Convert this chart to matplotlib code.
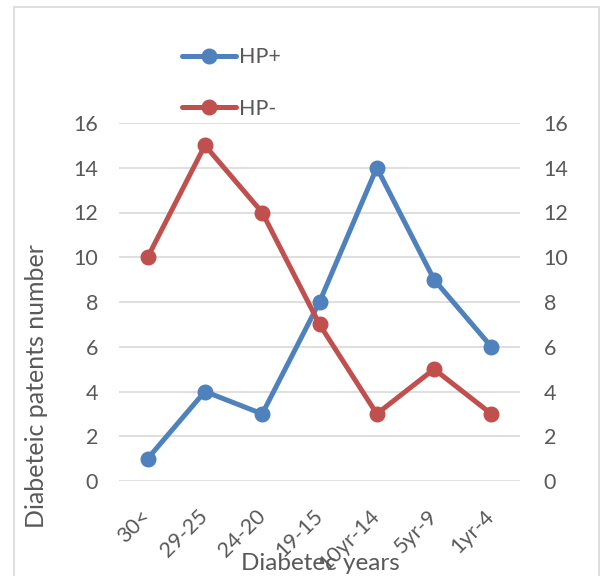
import matplotlib.pyplot as plt
from matplotlib.patches import Rectangle

categories = ['30<', '29-25', '24-20', '19-15', '10yr-14', '5yr-9', '1yr-4']
hp_pos = [1, 4, 3, 8, 14, 9, 6]
hp_neg = [10, 15, 12, 7, 3, 5, 3]
y_ticks = [0, 2, 4, 6, 8, 10, 12, 14, 16]

plt.rcParams['font.family'] = ['Lato', 'DejaVu Sans']
txt = '#595959'
blue = '#4F81BD'
red = '#C0504D'

fig = plt.figure(figsize=(6, 5.76), dpi=100)
# outer chart border, like the excel chart frame
fig.patches.append(Rectangle((14 / 600, -0.05), 585 / 600, 1.05 - 6.5 / 576,
                             transform=fig.transFigure, fill=False,
                             edgecolor='#D9D9D9', linewidth=1.2))

ax = fig.add_axes([119 / 600, 1 - 481 / 576, 401 / 600, 358 / 576])
x = range(len(categories))
ax.plot(x, hp_pos, color=blue, lw=3.6, marker='o', ms=10.5, label='HP+', solid_capstyle='round')
ax.plot(x, hp_neg, color=red, lw=3.6, marker='o', ms=10.5, label='HP-', solid_capstyle='round')

ax.set_xlim(-0.5, len(categories) - 0.5)
ax.set_ylim(0, 16)
ax.set_yticks(y_ticks)
ax.grid(axis='y', color='#D9D9D9', lw=1.2)
ax.set_axisbelow(True)
for s in ax.spines.values():
    s.set_visible(False)
ax.tick_params(length=0, colors=txt, labelsize=15.5)
ax.tick_params(axis='y', pad=15)
ax.set_xticks(list(x))
ax.set_xticklabels(categories, rotation=45, ha='right', va='center',
                   rotation_mode='anchor')
ax.tick_params(axis='x', pad=23)

ax2 = ax.twinx()
ax2.set_ylim(0, 16)
ax2.set_yticks(y_ticks)
for s in ax2.spines.values():
    s.set_visible(False)
ax2.tick_params(length=0, colors=txt, labelsize=15.5, pad=17)

fig.text(37 / 600, 1 - 386 / 576, 'Diabeteic patents number', rotation=90,
         ha='center', va='center', color=txt, fontsize=18)
fig.text(320 / 600, 1 - 564 / 576, 'Diabetec years', ha='center', va='center',
         color=txt, fontsize=17.5)

leg = fig.legend(loc='upper left', bbox_to_anchor=(163 / 600, 1 - 28 / 576),
                 frameon=False, fontsize=15.5, labelcolor=txt, handlelength=2.5,
                 handletextpad=0.15, labelspacing=1.45)

fig.savefig('out.png', dpi=100)
